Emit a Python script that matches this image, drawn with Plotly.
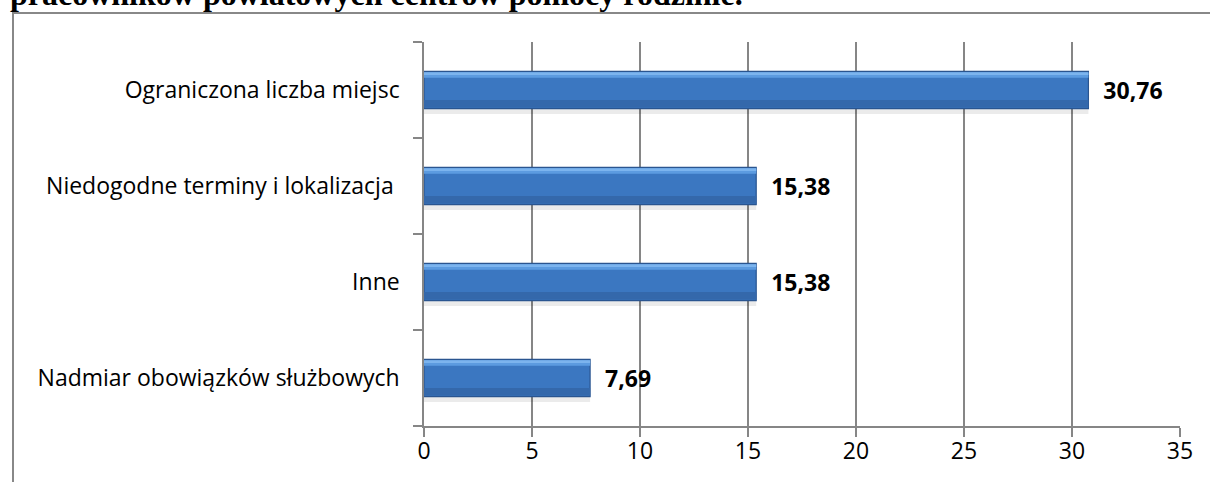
import plotly.graph_objects as go

categories = ["Nadmiar obowiązków służbowych", "Inne", "Niedogodne terminy i lokalizacja ", "Ograniczona liczba miejsc"]
values = [7.69, 15.38, 15.38, 30.76]
value_labels = ["7,69", "15,38", "15,38", "30,76"]
x_ticks = [0, 5, 10, 15, 20, 25, 30, 35]
title_text = "pracowników powiatowych centrów pomocy rodzinie."

W, H = 1210, 482
L, R, T, B = 424, 30, 42, 56
pw, ph = W - L - R, H - T - B

def px_x(p):
    return (p - L) / pw

def px_y(p):
    return (H - B - p) / ph

NB = "\u00a0"
FONT = "Open Sans, Noto Sans, sans-serif"

fig = go.Figure()
# shadow
fig.add_trace(go.Bar(
    y=categories, x=values, orientation="h", width=0.06, offset=-0.25,
    marker=dict(color="rgba(0,0,0,0.08)", line=dict(width=0)), hoverinfo="skip",
))
# main bar
fig.add_trace(go.Bar(
    y=categories, x=values, orientation="h", width=0.39,
    marker=dict(color="#3B77C1", line=dict(color="#2A5590", width=1.2)),
    text=value_labels, texttemplate=NB * 2 + "%{text}", textposition="outside",
    textfont=dict(family=FONT, size=23, color="black", weight="bold"),
    cliponaxis=False, hoverinfo="skip",
))
# top highlight
fig.add_trace(go.Bar(
    y=categories, x=values, orientation="h", width=0.055, offset=0.128,
    marker=dict(color="#5C9BE0", line=dict(width=0)), hoverinfo="skip",
))
fig.add_trace(go.Bar(
    y=categories, x=values, orientation="h", width=0.02, offset=0.165,
    marker=dict(color="#7CB4EE", line=dict(width=0)), hoverinfo="skip",
))
# bottom darker band
fig.add_trace(go.Bar(
    y=categories, x=values, orientation="h", width=0.08, offset=-0.185,
    marker=dict(color="#3468AB", line=dict(width=0)), hoverinfo="skip",
))

fig.update_layout(
    width=W, height=H, barmode="overlay", showlegend=False,
    margin=dict(l=L, r=R, t=T, b=B),
    paper_bgcolor="white", plot_bgcolor="white",
    font=dict(family=FONT, size=23, color="black"),
    xaxis=dict(range=[0, 35], tickvals=x_ticks, showgrid=True, gridcolor="#868686", gridwidth=1.6,
               showline=True, linecolor="#868686", linewidth=1.6, ticks="outside", ticklen=9,
               tickcolor="#868686", tickwidth=1.6, zeroline=False, tickfont=dict(size=23),
               ticklabelstandoff=-5),
    yaxis=dict(categoryorder="array", categoryarray=categories, showline=True, linecolor="#868686",
               linewidth=1.6, ticks="outside", tickson="boundaries", ticklen=9, tickcolor="#868686",
               tickwidth=1.6, showgrid=False, ticksuffix=NB * 3, tickfont=dict(size=23)),
)

# outer frame (cut at right and bottom)
fx, fy = px_x(13), px_y(13)
fig.add_shape(type="path", xref="paper", yref="paper", layer="above",
              path=f"M {fx} {px_y(H + 5)} L {fx} {fy} L {px_x(W + 5)} {fy}",
              line=dict(color="#888888", width=2))

# title, cut off at the top edge as in the reference
fig.add_annotation(text=f"<b>{title_text}</b>", xref="paper", yref="paper",
                   x=px_x(8), y=px_y(14), xanchor="left", yanchor="bottom",
                   showarrow=False, font=dict(family="Liberation Serif, Times New Roman, serif", size=32, color="black"))

fig.write_html("out.html", config={"displayModeBar": False},
               post_script="document.body.style.margin='0';document.body.style.overflow='hidden';")
